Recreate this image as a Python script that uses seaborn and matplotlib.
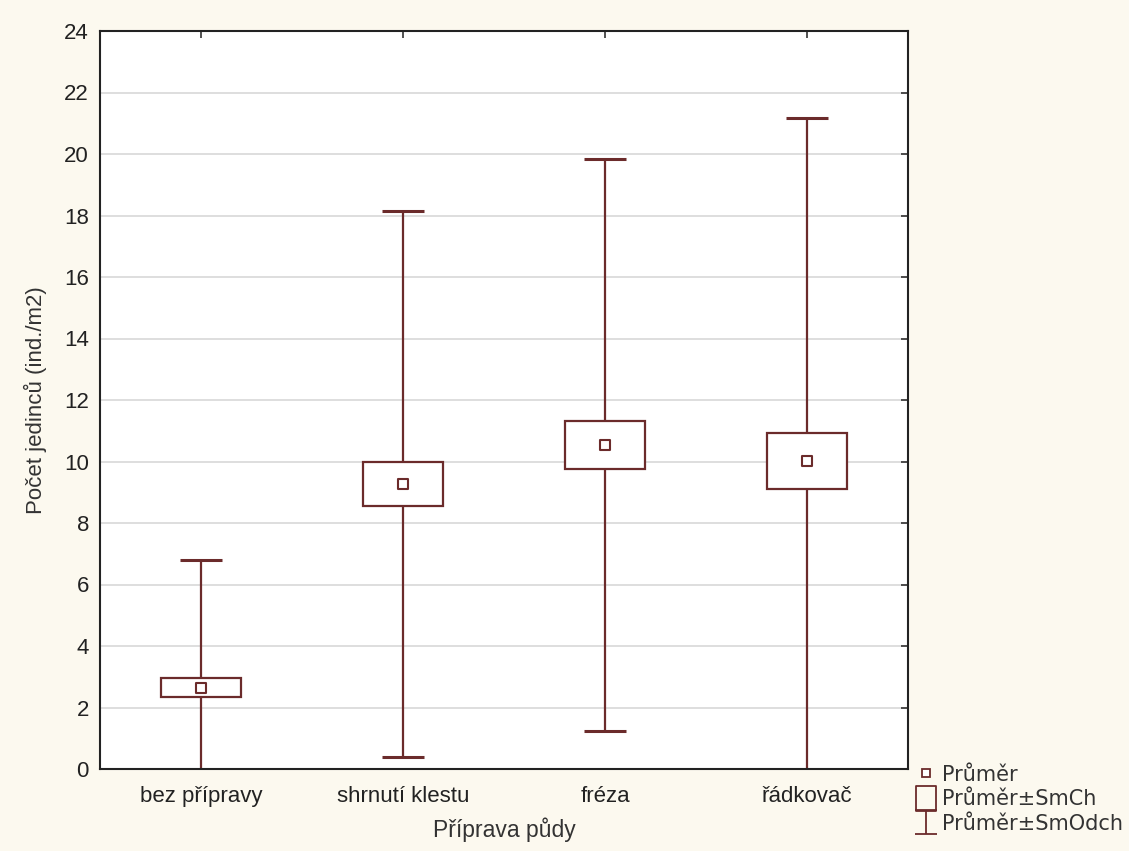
import numpy as np
import pandas as pd
import matplotlib
matplotlib.use("Agg")
import matplotlib.pyplot as plt
from matplotlib.lines import Line2D
from matplotlib.path import Path
import seaborn as sns

categories = ["bez přípravy", "shrnutí klestu", "fréza", "řádkovač"]
means = [2.65, 9.27, 10.53, 10.02]
se = [0.32, 0.73, 0.78, 0.91]
sd = [4.15, 8.88, 9.30, 11.15]
y_ticks = list(range(0, 25, 2))

sns.set_style("white")
plt.rcParams["font.family"] = ["Liberation Sans", "DejaVu Sans"]

LINE = "#6b2b2b"
BG = "#fcf9ef"

df = pd.DataFrame({"cat": categories, "mean": means, "se": se, "sd": sd})
x = np.arange(len(categories))

fig = plt.figure(figsize=(11.29, 8.51), dpi=100, facecolor=BG)
ax = fig.add_axes([100/1129, 82/851, 808/1129, 738/851])
ax.set_facecolor("white")

# whiskers (mean ± SD)
ax.errorbar(x, df["mean"], yerr=df["sd"], fmt="none", ecolor=LINE,
            elinewidth=1.6, capsize=15, capthick=2.2, zorder=2)
# boxes (mean ± SE)
ax.bar(x, 2 * df["se"], bottom=df["mean"] - df["se"], width=0.4,
       facecolor="white", edgecolor=LINE, linewidth=1.6, zorder=3)
# mean markers
sns.scatterplot(x=x, y=df["mean"], marker="s", s=42, facecolor="white",
                edgecolor=LINE, linewidth=1.5, ax=ax, zorder=4, legend=False)

ax.set_xlim(-0.5, len(categories) - 0.5)
ax.set_ylim(0, 24)
ax.set_yticks(y_ticks)
ax.set_xticks(x)
ax.set_xticklabels(categories)
ax.yaxis.grid(True, color="#d4d4d4", linewidth=1.1, zorder=0)
ax.set_axisbelow(True)
ax.tick_params(axis="both", direction="in", length=5, width=1.2, color="#333333",
               labelsize=16, top=True, right=True, labelcolor="#222222")
ax.tick_params(axis="x", pad=12)
ax.tick_params(axis="y", pad=8)
for s in ax.spines.values():
    s.set_color("#222222")
    s.set_linewidth(1.5)

ax.set_xlabel("Příprava půdy", fontsize=16.5, color="#333333", labelpad=8)
ax.set_ylabel("Počet jedinců (ind./m2)", fontsize=16, color="#333333", labelpad=12)

ibar = Path([(-0.45, 0.5), (0.45, 0.5), (0, 0.5), (0, -0.5), (-0.45, -0.5), (0.45, -0.5)],
            [Path.MOVETO, Path.LINETO, Path.MOVETO, Path.LINETO, Path.MOVETO, Path.LINETO])
rect = Path([(-0.4, -0.5), (0.4, -0.5), (0.4, 0.5), (-0.4, 0.5), (-0.4, -0.5)],
            [Path.MOVETO, Path.LINETO, Path.LINETO, Path.LINETO, Path.CLOSEPOLY])
handles = [
    Line2D([], [], linestyle="none", marker="s", markersize=5.5, markerfacecolor="white",
           markeredgecolor=LINE, markeredgewidth=1.3),
    Line2D([], [], linestyle="none", marker=rect, markersize=18, markerfacecolor="none",
           markeredgecolor=LINE, markeredgewidth=1.3),
    Line2D([], [], linestyle="none", marker=ibar, markersize=17, markerfacecolor="none",
           markeredgecolor=LINE, markeredgewidth=1.3),
]
labels = ["Průměr", "Průměr±SmCh", "Průměr±SmOdch"]
leg = fig.legend(handles, labels, loc="upper left", bbox_to_anchor=(902/1129, 1 - 750/851),
                 frameon=False, handlelength=0.9, handletextpad=0.3,
                 labelspacing=0.22, borderpad=0.2, prop={"family": "DejaVu Sans", "size": 15})
for t in leg.get_texts():
    t.set_color("#333333")

fig.savefig("out.png", dpi=100, facecolor=BG)
